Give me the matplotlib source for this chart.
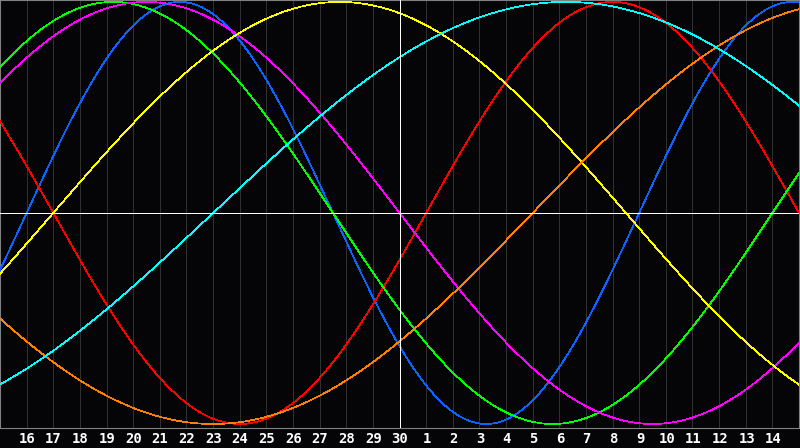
import numpy as np
import matplotlib
matplotlib.use("Agg")
from matplotlib import pyplot as plt

# day labels under the grid lines (positions 1..29)
day_labels = ["16", "17", "18", "19", "20", "21", "22", "23", "24", "25", "26", "27", "28", "29", "30",
              "1", "2", "3", "4", "5", "6", "7", "8", "9", "10", "11", "12", "13", "14"]
# biorhythm cycles: period in days and line colour
periods = [23, 28, 33, 38, 43, 48, 53]
colors = ["#0a64ff", "#ff0000", "#00ff00", "#ff00ff", "#ffff00", "#ff8000", "#00ffff"]
# days lived on the first labelled day ("16")
age_first_day = 45149
today_pos = 15  # position of "30"

bg = "#050508"
fig = plt.figure(figsize=(8, 4.48), dpi=100, facecolor=bg)
ax = fig.add_axes([0, 20 / 448, 799 / 800, 428 / 448])
ax.set_facecolor(bg)

x = np.linspace(0, 30, 1200)
for i in range(1, len(day_labels) + 1):
    ax.axvline(i, color="#303030", lw=0.5, antialiased=False, zorder=1)

for p, c in zip(periods, colors):
    t = age_first_day - 1 + x
    ax.plot(x, np.sin(2 * np.pi * t / p), color=c, lw=0.5, antialiased=False, zorder=3)

ax.axhline(0, color="white", lw=0.5, antialiased=False, zorder=4)
ax.axvline(today_pos, color="white", lw=0.5, antialiased=False, zorder=4)

ax.set_xlim(0, 30)
ax.set_ylim(-1.019, 1.009)
ax.set_xticks([])
ax.set_yticks([])
for s in ax.spines.values():
    s.set_color("#808080")
    s.set_linewidth(0.8)

for i, lab in enumerate(day_labels):
    fig.text((i + 1) * 26.667 / 800, 1 - 439 / 448, lab, color="white", fontsize=10,
             family="DejaVu Sans Mono", fontweight="bold", ha="center", va="center")

fig.savefig("out.png", dpi=100, facecolor=bg)
